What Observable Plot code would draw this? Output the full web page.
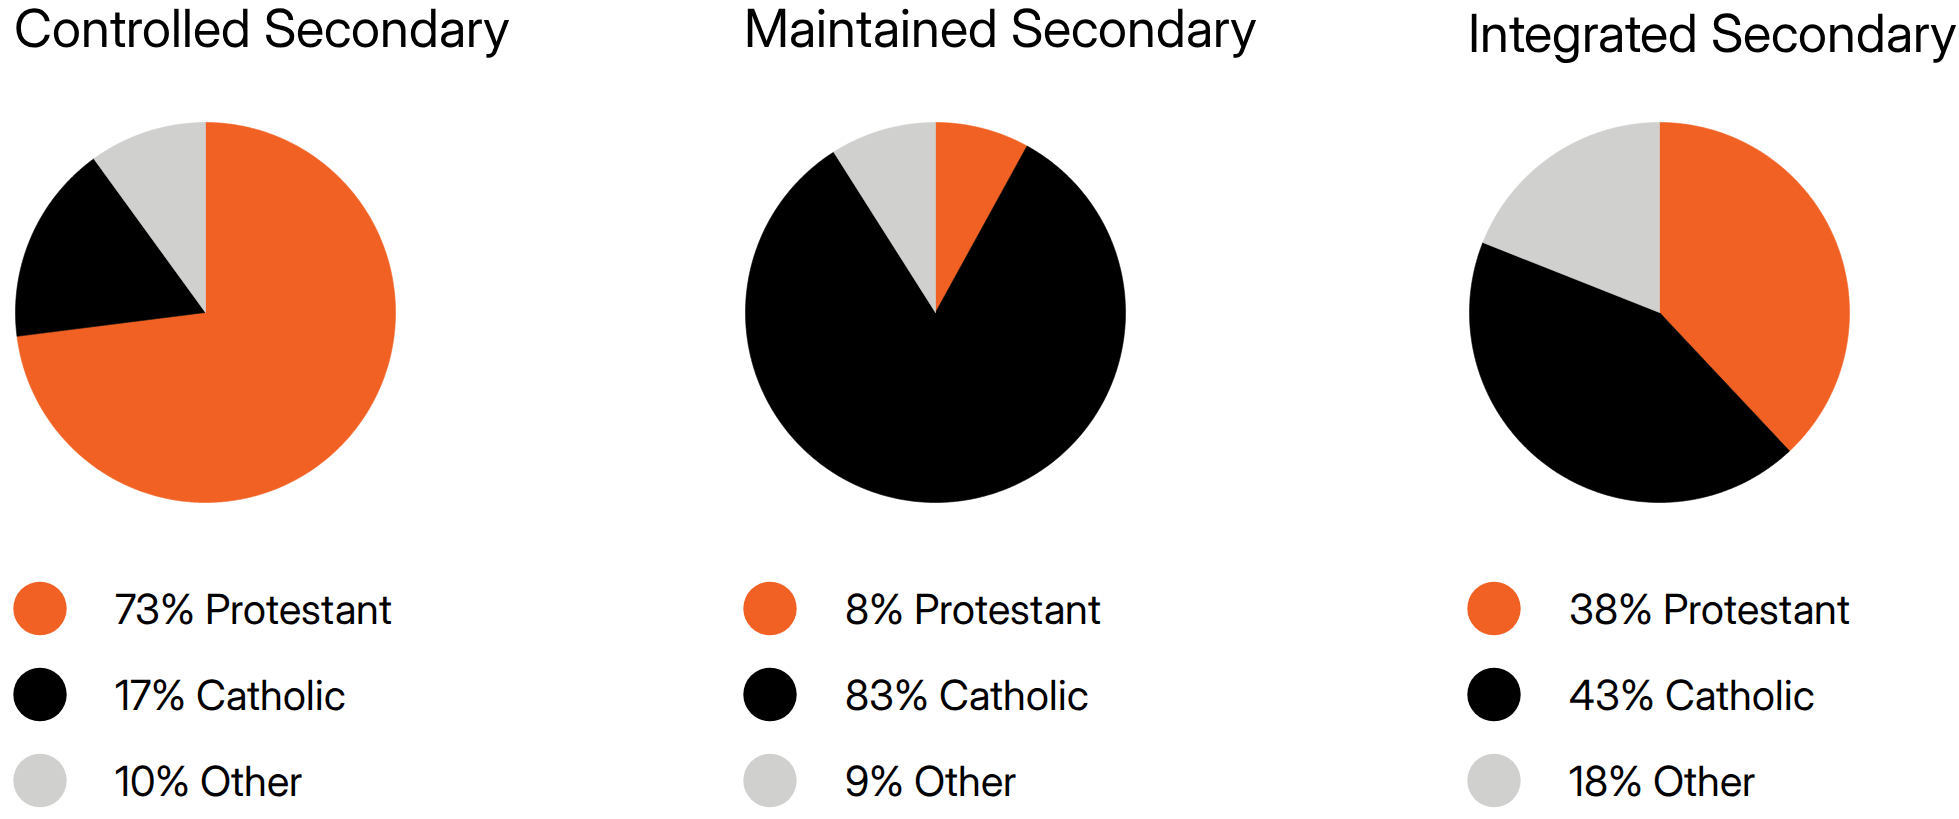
<!DOCTYPE html>
<html>
<head>
<meta charset="utf-8">
<script src="https://cdn.jsdelivr.net/npm/d3@7"></script>
<script src="https://cdn.jsdelivr.net/npm/@observablehq/plot@0.6"></script>
<style>
  @font-face {
    font-family: "InterTight";
    src: local("Inter"), local("Inter Regular"), local("Inter-Regular");
    ascent-override: 78%;
    descent-override: 20%;
    line-gap-override: 0%;
  }
  html, body { margin: 0; padding: 0; background: #ffffff; }
  #chart { position: relative; width: 1959px; height: 819px; overflow: hidden; background: #ffffff; }
  .panel { position: absolute; top: 0; width: 500px; height: 819px; }
  .panel svg { position: absolute; display: block; max-width: none !important; overflow: visible; }
</style>
</head>
<body>
<div id="chart"></div>
<script>
// ---- data ----
const schools = ["Controlled Secondary", "Maintained Secondary", "Integrated Secondary"];
const categories = ["Protestant", "Catholic", "Other"];
const colors = ["#f26124", "#000000", "#d0d0ce"];

// slice shares
const controlledShares = [73, 17, 10];
const maintainedShares = [8, 83, 9];
const integratedShares = [38, 43, 19];

// percentages printed in the legends
const controlledLabels = [73, 17, 10];
const maintainedLabels = [8, 83, 9];
const integratedLabels = [38, 43, 18];

const sharesBySchool = [controlledShares, maintainedShares, integratedShares];
const labelsBySchool = [controlledLabels, maintainedLabels, integratedLabels];

// ---- layout (not data) ----
const panelLeft = [14.5, 744.5, 1469];
const titleTop = [9, 9, 14];
const R = 190;           // pie radius in px
const pieCenterY = 312;
const FONT = "InterTight, Inter, 'Noto Sans', sans-serif";

function slicePoints(shares) {
  const total = d3.sum(shares);
  const pts = [];
  let acc = 0;
  shares.forEach((v, i) => {
    const a0 = (acc / total) * 2 * Math.PI;
    const a1 = ((acc + v) / total) * 2 * Math.PI;
    acc += v;
    const n = Math.max(2, Math.ceil((a1 - a0) / (Math.PI / 360)));
    const cat = categories[i];
    pts.push({category: cat, x: 0, y: 0});
    for (let k = 0; k <= n; ++k) {
      const a = a0 + (a1 - a0) * k / n;
      pts.push({category: cat, x: Math.sin(a), y: Math.cos(a)});
    }
    pts.push({category: cat, x: 0, y: 0});
  });
  return pts;
}

const chart = document.getElementById("chart");

schools.forEach((school, s) => {
  const panel = document.createElement("div");
  panel.className = "panel";
  panel.style.left = panelLeft[s] + "px";
  chart.appendChild(panel);

  // title
  const title = Plot.plot({
    width: 520, height: 80, margin: 0,
    style: {fontFamily: FONT, background: "transparent", letterSpacing: "0px"},
    marks: [
      Plot.text([school], {
        text: d => d, frameAnchor: "top-left", lineAnchor: "top", textAnchor: "start",
        fontSize: 52.5, fill: "#000", dx: -2, dy: titleTop[s]
      })
    ]
  });
  title.style.left = "0px";
  title.style.top = "0px";
  panel.appendChild(title);

  // pie
  const pie = Plot.plot({
    width: 2 * R + 4, height: 2 * R + 4, margin: 2,
    x: {domain: [-1, 1], axis: null},
    y: {domain: [-1, 1], axis: null},
    color: {domain: categories, range: colors},
    style: {background: "transparent"},
    marks: [
      Plot.line(slicePoints(sharesBySchool[s]), {
        x: "x", y: "y", z: "category",
        fill: "category", stroke: "category", strokeWidth: 0.6,
        curve: "linear"
      })
    ]
  });
  pie.style.left = "-2px";
  pie.style.top = (pieCenterY - R - 2) + "px";
  panel.appendChild(pie);

  // legend
  const rows = categories.map((c, i) => ({category: c, pct: labelsBySchool[s][i]}));
  const legend = Plot.plot({
    width: 480, height: 259, margin: 0,
    y: {type: "point", domain: categories, range: [47.5, 220], padding: 0, axis: null},
    color: {domain: categories, range: colors},
    style: {fontFamily: FONT, background: "transparent", letterSpacing: "0px"},
    marks: [
      Plot.dot(rows, {y: "category", fill: "category", r: 26.7, frameAnchor: "left", dx: 24.5}),
      Plot.text(rows, {
        y: "category", text: d => `${d.pct}% ${d.category}`,
        frameAnchor: "left", textAnchor: "start", dx: 99, dy: 2.5,
        fontSize: 41.5, fill: "#000"
      })
    ]
  });
  legend.style.left = "0px";
  legend.style.top = "560px";
  panel.appendChild(legend);
});
</script>
</body>
</html>
